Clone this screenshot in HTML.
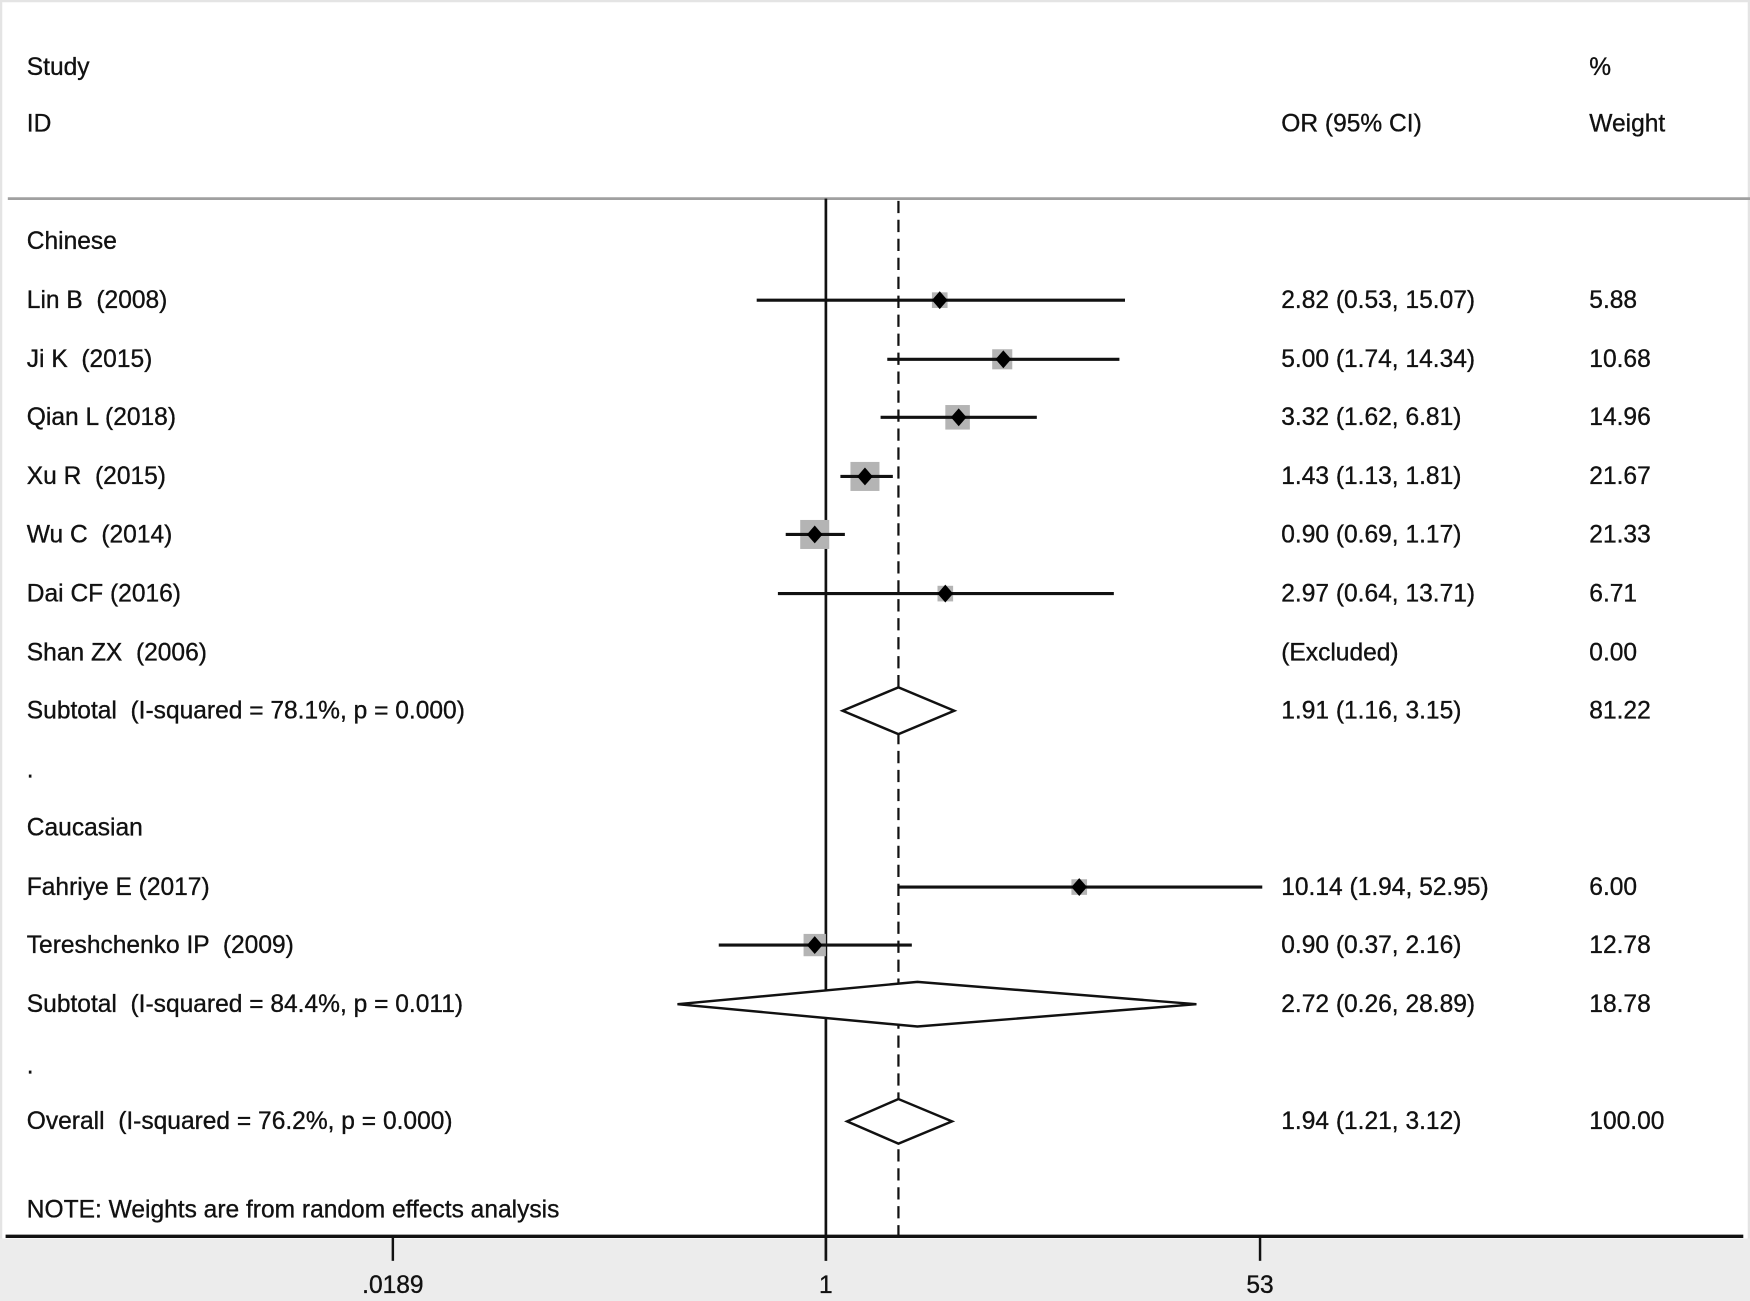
<!DOCTYPE html>
<html><head><meta charset="utf-8"><style>
html,body{margin:0;padding:0;background:#fff;}
svg{display:block;}
text{font-family:"Liberation Sans",Arial,sans-serif;font-size:22px;fill:#111;white-space:pre;stroke:#111;stroke-width:0.3;}
</style></head><body>
<svg width="1750" height="1301" viewBox="0 0 1568 1166" preserveAspectRatio="none" xmlns="http://www.w3.org/2000/svg" xml:space="preserve">
<rect x="0" y="0" width="1568" height="1166" fill="#fff"/>
<rect x="1" y="1" width="1566" height="1164" fill="none" stroke="#e4e4e4" stroke-width="2"/>
<rect x="0" y="1110" width="1568" height="56" fill="#ececec"/>
<text x="24" y="67">Study</text>
<text x="24" y="118">ID</text>
<text x="1424" y="67">%</text>
<text x="1148" y="118">OR (95% CI)</text>
<text x="1424" y="118">Weight</text>
<line x1="7" y1="178" x2="1568" y2="178" stroke="#a0a0a0" stroke-width="2.5"/>
<line x1="740" y1="178" x2="740" y2="1130" stroke="#111" stroke-width="2.4"/>
<line x1="805" y1="180" x2="805" y2="1108" stroke="#111" stroke-width="2" stroke-dasharray="11,6"/>
<line x1="5" y1="1108" x2="1562" y2="1108" stroke="#111" stroke-width="3"/>
<line x1="352" y1="1108" x2="352" y2="1130" stroke="#111" stroke-width="2.2"/>
<line x1="1129" y1="1108" x2="1129" y2="1130" stroke="#111" stroke-width="2.2"/>
<text x="352" y="1159" text-anchor="middle">.0189</text>
<text x="740" y="1159" text-anchor="middle">1</text>
<text x="1129" y="1159" text-anchor="middle">53</text>
<g>
<text x="24" y="223">Chinese</text>
<text x="24" y="276">Lin B  (2008)</text>
<text x="24" y="329">Ji K  (2015)</text>
<text x="24" y="381">Qian L (2018)</text>
<text x="24" y="434">Xu R  (2015)</text>
<text x="24" y="486">Wu C  (2014)</text>
<text x="24" y="539">Dai CF (2016)</text>
<text x="24" y="592">Shan ZX  (2006)</text>
<text x="24" y="644">Subtotal  (I-squared = 78.1%, p = 0.000)</text>
<text x="24" y="697">.</text>
<text x="24" y="749">Caucasian</text>
<text x="24" y="802">Fahriye E (2017)</text>
<text x="24" y="854">Tereshchenko IP  (2009)</text>
<text x="24" y="907">Subtotal  (I-squared = 84.4%, p = 0.011)</text>
<text x="24" y="962">.</text>
<text x="24" y="1012">Overall  (I-squared = 76.2%, p = 0.000)</text>
<text x="24" y="1091">NOTE: Weights are from random effects analysis</text>
</g>
<g>
<text x="1148" y="276">2.82 (0.53, 15.07)</text><text x="1424" y="276">5.88</text>
<text x="1148" y="329">5.00 (1.74, 14.34)</text><text x="1424" y="329">10.68</text>
<text x="1148" y="381">3.32 (1.62, 6.81)</text><text x="1424" y="381">14.96</text>
<text x="1148" y="434">1.43 (1.13, 1.81)</text><text x="1424" y="434">21.67</text>
<text x="1148" y="486">0.90 (0.69, 1.17)</text><text x="1424" y="486">21.33</text>
<text x="1148" y="539">2.97 (0.64, 13.71)</text><text x="1424" y="539">6.71</text>
<text x="1148" y="592">(Excluded)</text><text x="1424" y="592">0.00</text>
<text x="1148" y="644">1.91 (1.16, 3.15)</text><text x="1424" y="644">81.22</text>
<text x="1148" y="802">10.14 (1.94, 52.95)</text><text x="1424" y="802">6.00</text>
<text x="1148" y="854">0.90 (0.37, 2.16)</text><text x="1424" y="854">12.78</text>
<text x="1148" y="907">2.72 (0.26, 28.89)</text><text x="1424" y="907">18.78</text>
<text x="1148" y="1012">1.94 (1.21, 3.12)</text><text x="1424" y="1012">100.00</text>
</g>
<g fill="#b4b4b4">
<rect x="835" y="262" width="14" height="14"/>
<rect x="889" y="313" width="18" height="18"/>
<rect x="847" y="363" width="22" height="22"/>
<rect x="762" y="414" width="26" height="26"/>
<rect x="717" y="466" width="26" height="26"/>
<rect x="840" y="525" width="14" height="14"/>
<rect x="960" y="788" width="14" height="14"/>
<rect x="720" y="837" width="20" height="20"/>
</g>
<g stroke="#111" stroke-width="2.8">
<line x1="678" y1="269" x2="1008" y2="269"/>
<line x1="795" y1="322" x2="1003" y2="322"/>
<line x1="789" y1="374" x2="929" y2="374"/>
<line x1="753" y1="427" x2="800" y2="427"/>
<line x1="704" y1="479" x2="757" y2="479"/>
<line x1="697" y1="532" x2="998" y2="532"/>
<line x1="805" y1="795" x2="1131" y2="795"/>
<line x1="644" y1="847" x2="817" y2="847"/>
</g>
<g fill="#000">
<path d="M842 261 L849 269 L842 277 L835 269Z"/>
<path d="M899 314 L906 322 L899 330 L892 322Z"/>
<path d="M859 366 L866 374 L859 382 L852 374Z"/>
<path d="M775 419 L782 427 L775 435 L768 427Z"/>
<path d="M730 471 L737 479 L730 487 L723 479Z"/>
<path d="M847 524 L854 532 L847 540 L840 532Z"/>
<path d="M967 787 L974 795 L967 803 L960 795Z"/>
<path d="M730 839 L737 847 L730 855 L723 847Z"/>
</g>
<g fill="#fff" stroke="#111" stroke-width="2.2">
<path d="M755 637 L805 616 L855 637 L805 658Z"/>
<path d="M607 900 L822 880 L1072 900 L822 920Z"/>
<path d="M759 1005 L805 985 L853 1005 L805 1025Z"/>
</g>
</svg>
</body></html>
